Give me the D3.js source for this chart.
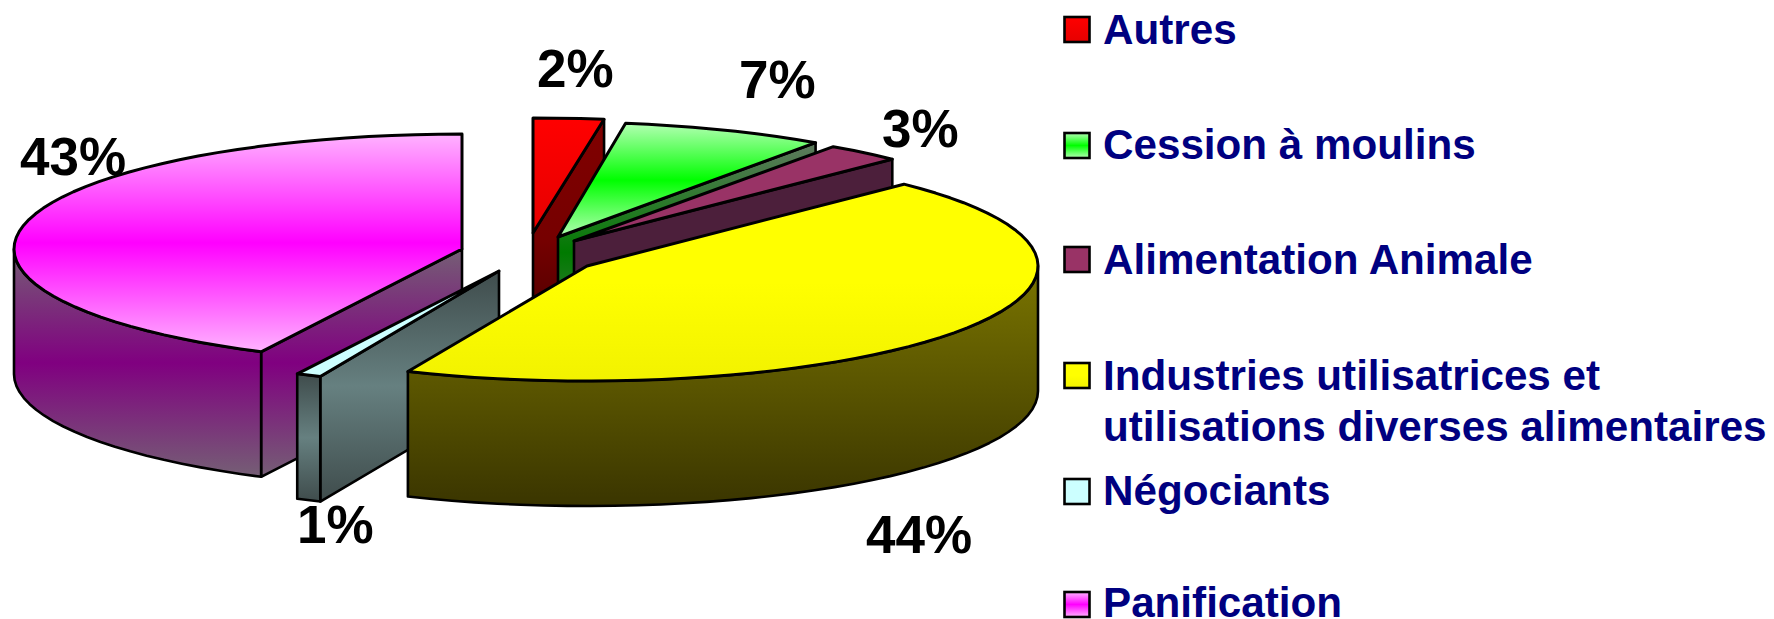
<!DOCTYPE html>
<html><head><meta charset="utf-8">
<script src="https://cdn.jsdelivr.net/npm/d3@7"></script>
<style>
html,body{margin:0;padding:0;background:#fff;overflow:hidden}
svg{display:block}
text{font-family:"Liberation Sans",Arial,sans-serif;font-weight:bold}
</style></head><body><div id="chart"></div>
<script>
// Data (shares in %, labels are the rounded values)
const categories = ["Autres","Cession à moulins","Alimentation Animale","Industries utilisatrices et|utilisations diverses alimentaires","Négociants","Panification"];
const values = [2.4, 7.3, 2.7, 44.1, 0.9, 42.6];

// Layout
const W = 1774, H = 619;
const sliceCentres = [[533,233],[558,237],[574,241],[587,266],[499,271],[462,249]];
const radiiX = [473,450,453,451,450,448];
const radiusY = 115, depth = 125;
const labelPos = [[537,87],[739,98],[882,147],[866,553],[297,543],[20,175]];
const labelBefore = [false,false,false,false,false,true];
const legendTop = [17,133,247,363,479,592];
const legendBase = [[44],[159],[274],[390,441],[505],[617]];

// Fill ramps: [offset,colour] for top face and side faces
const topRamps = [
  [[0,"#ff0000"],[1,"#e60000"]],
  [[0,"#b3ffb3"],[.5,"#00ff00"],[1,"#b3ffb3"]],
  [[0,"#993366"],[1,"#993366"]],
  [[0,"#ffff00"],[.5,"#ffff00"],[1,"#f2f200"]],
  [[0,"#ccffff"],[1,"#ccffff"]],
  [[0,"#ffb3ff"],[.5,"#ff00ff"],[1,"#ffb3ff"]]
];
const sideRamps = [
  [[0,"#800000"],[.5,"#760000"],[1,"#400000"]],
  [[0,"#5f7a5f"],[.5,"#007a00"],[1,"#5f7a5f"]],
  [[0,"#4c1f3b"],[1,"#4c1f3b"]],
  [[0,"#7a7500"],[1,"#3a3500"]],
  [[0,"#3f4c4c"],[.5,"#668080"],[1,"#3f4c4c"]],
  [[0,"#755f75"],[.5,"#800080"],[1,"#755f75"]]
];

const svg = d3.select("#chart").append("svg").attr("width",W).attr("height",H);
const defs = svg.append("defs");
function ramp(id, stops){
  const g = defs.append("linearGradient").attr("id",id).attr("x1",0).attr("y1",0).attr("x2",0).attr("y2",1);
  stops.forEach(s=>g.append("stop").attr("offset",s[0]).attr("stop-color",s[1]));
}
topRamps.forEach((s,i)=>ramp("top"+i,s));
sideRamps.forEach((s,i)=>ramp("side"+i,s));

const arcs = d3.pie().sort(null).startAngle(0).endAngle(2*Math.PI)(values);
const line = d3.line();
const fmt = d3.format(".0f");

function project(i, a, z){
  const [cx,cy] = sliceCentres[i];
  return [cx + radiiX[i]*Math.sin(a), cy - radiusY*Math.cos(a) + z];
}
function rim(i, a0, a1, z){
  const n = Math.max(1, Math.round((a1-a0)/(3*Math.PI/180)));
  return d3.range(n+1).map(k=>project(i, a0+(a1-a0)*k/n, z));
}
const apex = (i,z)=>[sliceCentres[i][0], sliceCentres[i][1]+z];

function drawLabel(i){
  svg.append("text").attr("x",labelPos[i][0]).attr("y",labelPos[i][1])
    .attr("font-size",53).attr("fill","#000").text(fmt(values[i])+"%");
}
labelBefore.forEach((b,i)=>{ if(b) drawLabel(i); });

const drawOrder = [0,1,2,5,4,3];
drawOrder.forEach(i=>{
  const d = arcs[i], a0=d.startAngle, a1=d.endAngle, g=svg.append("g");
  const side = {fill:`url(#side${i})`,stroke:"#000","stroke-width":2.6,"stroke-linejoin":"round"};
  const style = (s,o)=>{Object.entries(o).forEach(([k,v])=>s.attr(k,v));return s;};
  const PI=Math.PI;
  // cut face along the end edge
  if(a1<PI){
    style(g.append("path").attr("d",line([apex(i,0),project(i,a1,0),project(i,a1,depth),apex(i,depth)])+"Z"),side);
  }
  // cut face along the start edge
  if(a0>PI){
    style(g.append("path").attr("d",line([apex(i,0),project(i,a0,0),project(i,a0,depth),apex(i,depth)])+"Z"),side);
  }
  // outer wall, the part turned to the viewer
  const w0=Math.max(a0,PI/2), w1=Math.min(a1,3*PI/2);
  if(w1>w0){
    const t=rim(i,w0,w1,0), b=rim(i,w0,w1,depth).reverse();
    style(g.append("path").attr("d",line(t.concat(b))+"Z"),side);
  }
  // top face
  g.append("path").attr("d",line([apex(i,0)].concat(rim(i,a0,a1,0)))+"Z")
    .attr("fill",`url(#top${i})`).attr("stroke","#000").attr("stroke-width",3).attr("stroke-linejoin","round");
});
labelBefore.forEach((b,i)=>{ if(!b) drawLabel(i); });

// Legend
categories.forEach((c,i)=>{
  svg.append("rect").attr("x",1064.5).attr("y",legendTop[i]).attr("width",25).attr("height",25)
    .attr("fill",`url(#top${i})`).attr("stroke","#000").attr("stroke-width",2.6);
  c.split("|").forEach((t,k)=>{
    svg.append("text").attr("x",1103).attr("y",legendBase[i][k])
      .attr("font-size",42.2).attr("fill","#000080").text(t);
  });
});
</script></body></html>
